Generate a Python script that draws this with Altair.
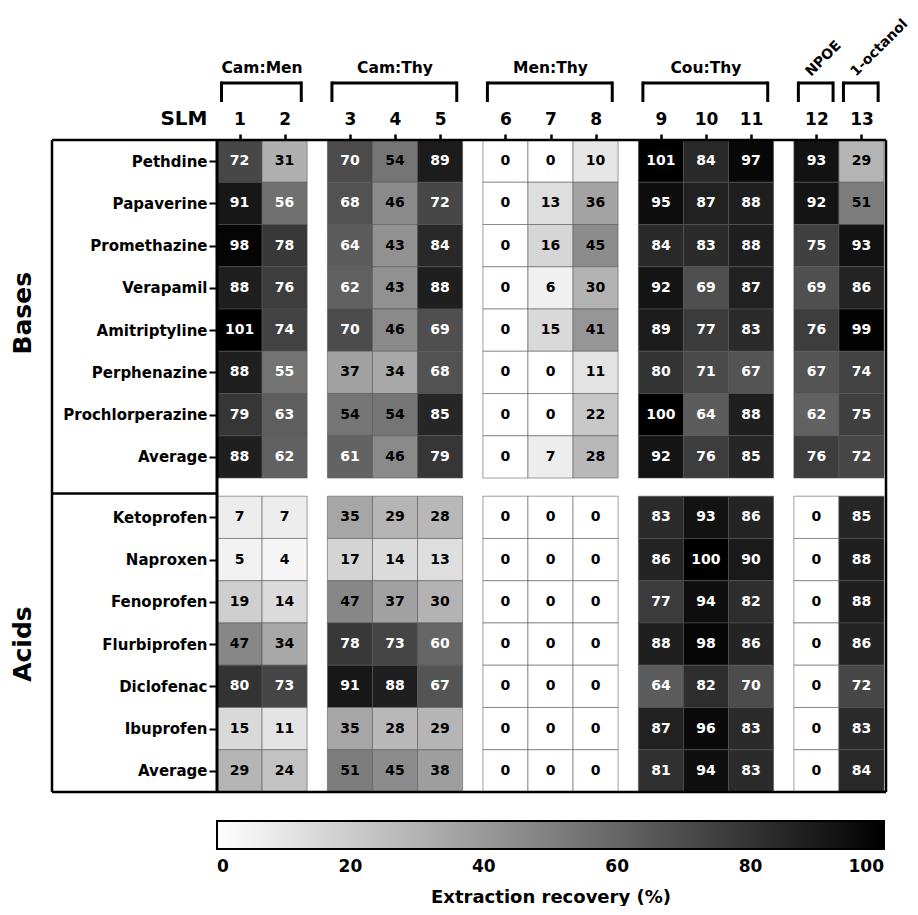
import altair as alt
import pandas as pd

# ---------------- data ----------------
slm_labels = [str(i) for i in range(1, 14)]
col_block = [0, 0, 1, 1, 1, 2, 2, 2, 3, 3, 3, 4, 4]          # spacing blocks of the heat map
group_names = ["Cam:Men", "Cam:Thy", "Men:Thy", "Cou:Thy", "NPOE", "1-octanol"]
group_members = [[1, 2], [3, 4, 5], [6, 7, 8], [9, 10, 11], [12], [13]]
group_rotated = [False, False, False, False, True, True]

base_names = ["Pethdine", "Papaverine", "Promethazine", "Verapamil",
              "Amitriptyline", "Perphenazine", "Prochlorperazine", "Average"]
acid_names = ["Ketoprofen", "Naproxen", "Fenoprofen", "Flurbiprofen",
              "Diclofenac", "Ibuprofen", "Average"]

pethdine         = [72, 31, 70, 54, 89, 0, 0, 10, 101, 84, 97, 93, 29]
papaverine       = [91, 56, 68, 46, 72, 0, 13, 36, 95, 87, 88, 92, 51]
promethazine     = [98, 78, 64, 43, 84, 0, 16, 45, 84, 83, 88, 75, 93]
verapamil        = [88, 76, 62, 43, 88, 0, 6, 30, 92, 69, 87, 69, 86]
amitriptyline    = [101, 74, 70, 46, 69, 0, 15, 41, 89, 77, 83, 76, 99]
perphenazine     = [88, 55, 37, 34, 68, 0, 0, 11, 80, 71, 67, 67, 74]
prochlorperazine = [79, 63, 54, 54, 85, 0, 0, 22, 100, 64, 88, 62, 75]
bases_average    = [88, 62, 61, 46, 79, 0, 7, 28, 92, 76, 85, 76, 72]

ketoprofen    = [7, 7, 35, 29, 28, 0, 0, 0, 83, 93, 86, 0, 85]
naproxen      = [5, 4, 17, 14, 13, 0, 0, 0, 86, 100, 90, 0, 88]
fenoprofen    = [19, 14, 47, 37, 30, 0, 0, 0, 77, 94, 82, 0, 88]
flurbiprofen  = [47, 34, 78, 73, 60, 0, 0, 0, 88, 98, 86, 0, 86]
diclofenac    = [80, 73, 91, 88, 67, 0, 0, 0, 64, 82, 70, 0, 72]
ibuprofen     = [15, 11, 35, 28, 29, 0, 0, 0, 87, 96, 83, 0, 83]
acids_average = [29, 24, 51, 45, 38, 0, 0, 0, 81, 94, 83, 0, 84]

bases_values = [pethdine, papaverine, promethazine, verapamil,
                amitriptyline, perphenazine, prochlorperazine, bases_average]
acids_values = [ketoprofen, naproxen, fenoprofen, flurbiprofen,
                diclofenac, ibuprofen, acids_average]
class_names = ["Bases", "Acids"]
legend_values = [0, 20, 40, 60, 80, 100]

# ---------------- layout (data units: one cell = 1) ----------------
GAP_X = 0.45
GAP_Y = 0.43
XMAX = 13 + 4 * GAP_X
YMAX = 15 + GAP_Y
W, H = 667, 652
FONT = "DejaVu Sans"

col_x0 = [c + col_block[c] * GAP_X for c in range(13)]
row_names = base_names + acid_names
row_y0 = [i for i in range(8)] + [8 + GAP_Y + j for j in range(7)]
all_values = bases_values + acids_values

cells = []
for r, (name, vals) in enumerate(zip(row_names, all_values)):
    for c, v in enumerate(vals):
        cells.append({"row": r, "compound": name, "slm": slm_labels[c],
                      "x0": col_x0[c], "x1": col_x0[c] + 1,
                      "y0": row_y0[r], "y1": row_y0[r] + 1,
                      "xc": col_x0[c] + 0.5, "yc": row_y0[r] + 0.5,
                      "value": v})
cells = pd.DataFrame(cells)

# axis label expressions
x_centers = [x + 0.5 for x in col_x0]
xexpr = "'" + slm_labels[-1] + "'"
for c in range(11, -1, -1):
    xexpr = f"datum.value < {x_centers[c] + 0.5:.3f} ? '{slm_labels[c]}' : " + xexpr
y_centers = [y + 0.5 for y in row_y0]
yexpr = "'" + row_names[-1] + "'"
for r in range(13, -1, -1):
    yexpr = f"datum.value < {y_centers[r] + 0.5:.3f} ? '{row_names[r]}' : " + yexpr

xscale = alt.Scale(domain=[0, XMAX], nice=False, zero=False)
yscale = alt.Scale(domain=[0, YMAX], nice=False, zero=False, reverse=True)
xaxis = alt.Axis(orient="top", values=x_centers, labelExpr=xexpr, grid=False, domain=False,
                 tickSize=6, tickWidth=2.5, tickColor="black", labelPadding=6,
                 labelFont=FONT, labelFontWeight="bold", labelFontSize=17, labelColor="black",
                 labelAngle=0, labelBaseline="bottom",
                 title="SLM", titleFont=FONT, titleFontWeight="bold", titleFontSize=20,
                 titleColor="black", titleX=-10, titleY=-22, titleAlign="right",
                 titleBaseline="middle", titleAngle=0)
yaxis = alt.Axis(orient="left", values=y_centers, labelExpr=yexpr, grid=False, domain=False,
                 tickSize=8, tickWidth=2, tickColor="black", labelPadding=2,
                 labelFont=FONT, labelFontWeight="bold", labelFontSize=15, labelColor="black",
                 title=None, labelOverlap=False)

X = lambda f: alt.X(f, scale=xscale, axis=xaxis)
Y = lambda f: alt.Y(f, scale=yscale, axis=yaxis)

heat = alt.Chart(cells).mark_rect(stroke="#555555", strokeWidth=0.8, strokeOpacity=0.7).encode(
    x=X("x0:Q"), x2="x1:Q", y=Y("y0:Q"), y2="y1:Q",
    color=alt.Color("value:Q",
                    scale=alt.Scale(domain=[0, 100], range=["#ffffff", "#000000"],
                                    clamp=True, interpolate="rgb"),
                    legend=alt.Legend(orient="none", legendX=0, legendY=H + 29,
                                      direction="horizontal", gradientLength=W,
                                      gradientThickness=28, gradientStrokeColor="black",
                                      gradientStrokeWidth=2, values=legend_values,
                                      labelFont=FONT, labelFontWeight="bold", labelFontSize=17,
                                      labelColor="black", labelOffset=10,
                                      title="Extraction recovery (%)", titleOrient="bottom",
                                      titleAnchor="middle", titleFont=FONT, titleLimit=800,
                                      titleFontWeight="bold", titleFontSize=18,
                                      titleColor="black", titlePadding=14)),
)

cell_text = alt.Chart(cells).mark_text(font=FONT, fontWeight="bold", fontSize=14,
                                       baseline="middle", align="center").encode(
    x=X("xc:Q"), y=Y("yc:Q"), text="value:Q",
    color=alt.condition("datum.value >= 55", alt.value("white"), alt.value("black")),
)

# group brackets
brk, legs, glabels = [], [], []
for g, (name, members, rot) in enumerate(zip(group_names, group_members, group_rotated)):
    left = col_x0[members[0] - 1] + 0.1
    right = col_x0[members[-1] - 1] + 1 - 0.13
    centre = (col_x0[members[0] - 1] + col_x0[members[-1] - 1] + 1) / 2
    brk.append({"left": left, "right": right})
    legs += [{"leg": left}, {"leg": right}]
    glabels.append({"name": name, "xc": centre, "xr": centre - 0.12, "rot": rot})
brk, legs, glabels = pd.DataFrame(brk), pd.DataFrame(legs), pd.DataFrame(glabels)

bracket_top = alt.Chart(brk).mark_rule(color="black", strokeWidth=3).encode(
    x=X("left:Q"), x2="right:Q", y=alt.value(-57))
bracket_legs = alt.Chart(legs).mark_rule(color="black", strokeWidth=3).encode(
    x=X("leg:Q"), y=alt.value(-58.5), y2=alt.value(-38))
group_text = alt.Chart(glabels[~glabels.rot]).mark_text(
    font=FONT, fontWeight="bold", fontSize=15.5, baseline="middle", align="center").encode(
    x=X("xc:Q"), y=alt.value(-72), text="name:N")
group_text_rot = alt.Chart(glabels[glabels.rot]).mark_text(
    font=FONT, fontWeight="bold", fontSize=14, baseline="alphabetic", align="left",
    angle=315).encode(x=X("xr:Q"), y=alt.value(-63), text="name:N")

# class labels (Bases / Acids)
classes = pd.DataFrame({"name": class_names,
                        "yc": [4.1, 8 + GAP_Y + 3.5]})
class_text = alt.Chart(classes).mark_text(font=FONT, fontWeight="bold", fontSize=25,
                                          angle=270, baseline="middle", align="center").encode(
    x=alt.value(-194), y=Y("yc:Q"), text="name:N")

# frame lines
frame_df = pd.DataFrame({"k": [0]})
fr = alt.Chart(frame_df)
frame = [
    fr.mark_rule(color="black", strokeWidth=2.5).encode(x=alt.value(-165), x2=alt.value(W + 2), y=alt.value(0)),
    fr.mark_rule(color="black", strokeWidth=2.5).encode(x=alt.value(-165), x2=alt.value(W + 2), y=alt.value(H)),
    fr.mark_rule(color="black", strokeWidth=2.5).encode(x=alt.value(-165), y=alt.value(0), y2=alt.value(H)),
    fr.mark_rule(color="black", strokeWidth=2.5).encode(x=alt.value(W + 2), y=alt.value(0), y2=alt.value(H)),
    fr.mark_rule(color="black", strokeWidth=3).encode(x=alt.value(0), y=alt.value(0), y2=alt.value(H)),
    fr.mark_rule(color="black", strokeWidth=2.5).encode(x=alt.value(-165), x2=alt.value(0),
                                                       y=alt.Y(datum=8 + GAP_Y * 0.85, scale=yscale, axis=yaxis)),
]

chart = alt.layer(heat, cell_text, bracket_top, bracket_legs, group_text, group_text_rot,
                  class_text, *frame).properties(
    width=W, height=H,
    autosize=alt.AutoSizeParams(type="none"),
    padding={"left": 209, "top": 132, "right": 26, "bottom": 114},
    background="white",
).configure_view(stroke=None)

chart.save("out.html", embed_options={"renderer": "svg", "actions": False})
